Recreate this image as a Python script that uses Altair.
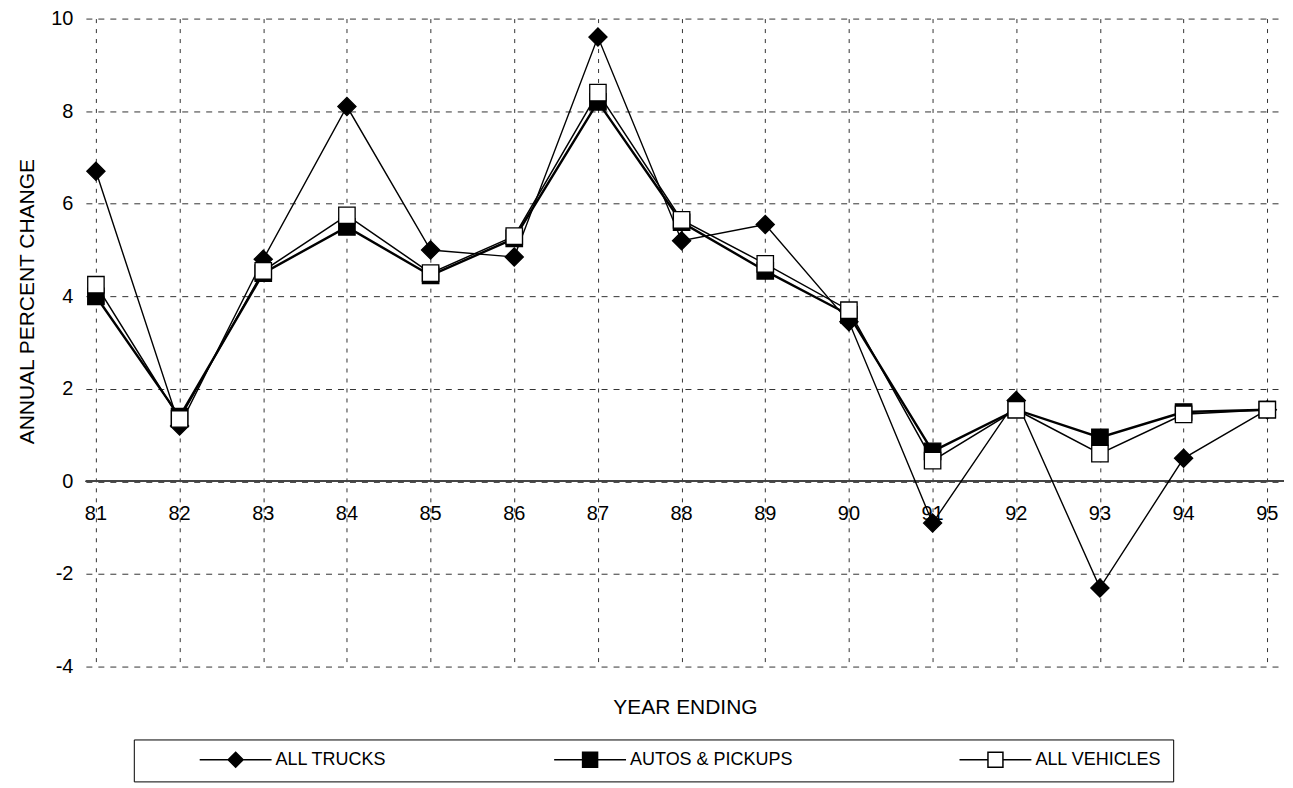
import altair as alt
import pandas as pd

years = list(range(81, 96))
trucks = [6.7, 1.2, 4.8, 8.1, 5.0, 4.85, 9.6, 5.2, 5.55, 3.45, -0.9, 1.75, -2.3, 0.5, 1.55]
autos = [4.0, 1.4, 4.5, 5.5, 4.45, 5.25, 8.2, 5.6, 4.55, 3.6, 0.65, 1.55, 0.95, 1.5, 1.55]
vehicles = [4.25, 1.35, 4.55, 5.75, 4.5, 5.3, 8.4, 5.65, 4.7, 3.7, 0.45, 1.55, 0.6, 1.45, 1.55]
series_names = ["ALL TRUCKS", "AUTOS & PICKUPS", "ALL VEHICLES"]
y_ticks = [-4, -2, 0, 2, 4, 6, 8, 10]

shapes = ["diamond", "square", "square"]
fills = ["black", "black", "white"]
strokes = ["black", "black", "black"]
widths = [1.4, 2.4, 1.5]
sizes = [330, 270, 270]

rows = []
for name, vals in zip(series_names, [trucks, autos, vehicles]):
    for yr, v in zip(years, vals):
        rows.append({"year": yr, "value": v, "series": name})
df = pd.DataFrame(rows)
labels_df = pd.DataFrame({"year": years, "label": [str(y) for y in years]})

FONT = "Liberation Sans"
x_scale = alt.Scale(domain=[80.88, 95.2], nice=False, zero=False)
y_scale = alt.Scale(domain=[-4, 10], nice=False, zero=False)

x_axis = alt.Axis(values=years, grid=True, gridDash=[4, 6], gridColor="#333", gridWidth=1,
                  labels=False, ticks=False, domain=False, title="YEAR ENDING",
                  titleFont=FONT, titleFontSize=21, titleFontWeight="normal",
                  titleColor="black", titlePadding=30)
y_axis = alt.Axis(values=y_ticks, grid=True, gridDash=[6, 6], gridColor="#333", gridWidth=1,
                  domain=False, ticks=False, labelFont=FONT, labelFontSize=20,
                  labelColor="black", labelPadding=13,
                  labelExpr="datum.value < 0 ? '-' + abs(datum.value) : '' + datum.value",
                  title="ANNUAL PERCENT CHANGE",
                  titleFont=FONT, titleFontSize=21, titleFontWeight="normal",
                  titleColor="black", titlePadding=13, titleY=283)

# legend symbols: marker with a line through it
diamond_path = "M-4.8,0H-1M1,0H4.8M0,-1L1,0L0,1L-1,0Z"
square_path = "M-4.8,0H-1M1,0H4.8M-1,-1H1V1H-1Z"
legend_paths = [diamond_path, square_path, square_path]

pad_expr = ("datum.label == 'ALL VEHICLES' ? datum.label + "
            "'\u00a0\u00a0\u00a0\u00a0\u00a0\u00a0\u00a0\u00a0\u00a0\u00a0\u00a0\u00a0\u00a0\u00a0\u00a0\u00a0' "
            ": datum.label")

legend = alt.Legend(title=None, orient="none", legendX=48, legendY=722,
                    direction="horizontal", columns=3, columnPadding=112, padding=11,
                    strokeColor="black", labelFont=FONT, labelFontSize=18,
                    labelColor="black", labelOffset=31, labelLimit=500, labelExpr=pad_expr,
                    symbolOffset=82, symbolSize=225,
                    symbolStrokeColor="black", symbolStrokeWidth=1.5, symbolOpacity=1)

X = alt.X("year:Q", scale=x_scale, axis=x_axis)
Y = alt.Y("value:Q", scale=y_scale, axis=y_axis)

base = alt.Chart(df)

zero_rule = alt.Chart(labels_df).mark_rule(color="#444", strokeWidth=1.2).encode(
    y=alt.datum(0)
)

line_layers = []
point_layers = []
for name, shp, fl, sz, w in zip(series_names, shapes, fills, sizes, widths):
    sub = base.transform_filter(alt.datum.series == name)
    line_layers.append(sub.mark_line(color="black", strokeWidth=w).encode(x=X, y=Y))
    point_layers.append(
        sub.mark_point(shape=shp, filled=True, fill=fl, stroke="black",
                       strokeWidth=1.3, opacity=1, size=sz).encode(x=X, y=Y)
    )

legend_layer = base.mark_point(
    filled=True, strokeWidth=1.5, opacity=0
).encode(
    x=X, y=Y,
    shape=alt.Shape("series:N", scale=alt.Scale(domain=series_names, range=legend_paths), legend=legend),
    fill=alt.Fill("series:N", scale=alt.Scale(domain=series_names, range=fills), legend=legend),
    stroke=alt.Stroke("series:N", scale=alt.Scale(domain=series_names, range=strokes), legend=legend),
)

year_labels = alt.Chart(labels_df).mark_text(font=FONT, fontSize=20, dy=33, color="black").encode(
    x=X, y=alt.datum(0), text="label:N"
)

chart = alt.layer(zero_rule, *line_layers, legend_layer, *point_layers, year_labels).properties(
    width=1200, height=649,
    padding={"left": 8, "top": 0, "right": 0, "bottom": 0},
    background="white",
).configure_view(stroke=None)

chart.save("out.html", embed_options={"renderer": "svg", "actions": False})
